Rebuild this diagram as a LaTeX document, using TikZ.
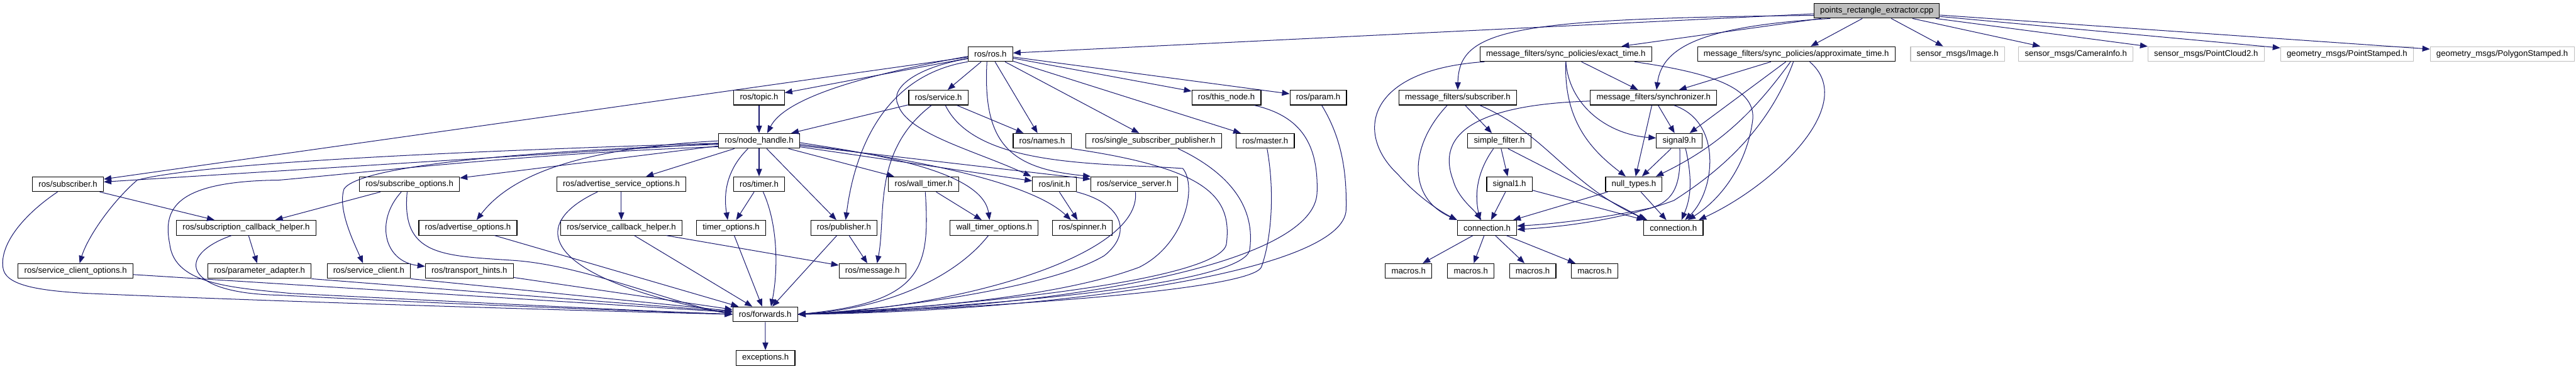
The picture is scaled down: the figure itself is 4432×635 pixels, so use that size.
\documentclass[tikz,border=0pt]{standalone}
\usepackage{fontspec}
\setsansfont{Liberation Sans}
\usetikzlibrary{arrows.meta}
\definecolor{Edge}{HTML}{191970}
\definecolor{Grey}{HTML}{BFBFBF}

\begin{document}
\begin{tikzpicture}[x=1pt,y=-1pt,font=\sffamily\fontsize{14.3}{17}\selectfont,>={Triangle[length=13pt,width=10pt]},
 box/.style={draw=black,fill=white,line width=1.2pt,inner xsep=10.5pt,inner ysep=0pt,minimum height=25.5pt},
 ext/.style={box,draw=Grey},
 rootbox/.style={box,fill=Grey},
 dep/.style={->,line width=1.1pt,draw=Edge}]
 \useasboundingbox (0,0) rectangle (4432,635);
 % row 0 and 1
 \node[rootbox] (root) at (3229,18.5) {points\_rectangle\_extractor.cpp};
 \node[box] (rosh) at (1704,93) {ros/ros.h};
 \node[box] (exact) at (2694,93) {message\_filters/sync\_policies/exact\_time.h};
 \node[box] (approx) at (3090.5,93) {message\_filters/sync\_policies/approximate\_time.h};
 \node[ext] (image) at (3368,93) {sensor\_msgs/Image.h};
 \node[ext] (caminfo) at (3571.5,93) {sensor\_msgs/CameraInfo.h};
 \node[ext] (cloud) at (3795.5,93) {sensor\_msgs/PointCloud2.h};
 \node[ext] (point) at (4038,93) {geometry\_msgs/PointStamped.h};
 \node[ext] (polygon) at (4305,93) {geometry\_msgs/PolygonStamped.h};
 % row 2
 \node[box] (topic) at (1306,168) {ros/topic.h};
 \node[box] (service) at (1614.5,168) {ros/service.h};
 \node[box] (thisnode) at (2110,168) {ros/this\_node.h};
 \node[box] (param) at (2268,168) {ros/param.h};
 \node[box] (mfsub) at (2508,168) {message\_filters/subscriber.h};
 \node[box] (sync) at (2845,168) {message\_filters/synchronizer.h};
 % row 3
 \node[box] (nh) at (1306,242.5) {ros/node\_handle.h};
 \node[box] (names) at (1793,242.5) {ros/names.h};
 \node[box] (ssp) at (1985,242.5) {ros/single\_subscriber\_publisher.h};
 \node[box] (master) at (2177,242.5) {ros/master.h};
 \node[box] (filter) at (2579.5,242.5) {simple\_filter.h};
 \node[box] (sig9) at (2889,242.5) {signal9.h};
 % row 4
 \node[box] (sub) at (117,317) {ros/subscriber.h};
 \node[box] (subopts) at (704.5,317) {ros/subscribe\_options.h};
 \node[box] (advsrv) at (1069,317) {ros/advertise\_service\_options.h};
 \node[box] (timer) at (1306,317) {ros/timer.h};
 \node[box] (walltimer) at (1589,317) {ros/wall\_timer.h};
 \node[box] (init) at (1814,317) {ros/init.h};
 \node[box] (server) at (1951.5,317) {ros/service\_server.h};
 \node[box] (sig1) at (2597,317) {signal1.h};
 \node[box] (nulltypes) at (2811,317) {null\_types.h};
 % row 5
 \node[box] (subcb) at (423.5,392) {ros/subscription\_callback\_helper.h};
 \node[box] (advopts) at (805,392) {ros/advertise\_options.h};
 \node[box] (srvcb) at (1069,392) {ros/service\_callback\_helper.h};
 \node[box] (timeropts) at (1258,392) {timer\_options.h};
 \node[box] (pub) at (1452,392) {ros/publisher.h};
 \node[box] (wallopts) at (1710.5,392) {wall\_timer\_options.h};
 \node[box] (spinner) at (1862.5,392) {ros/spinner.h};
 \node[box] (connL) at (2558.5,392) {connection.h};
 \node[box] (connR) at (2879,392) {connection.h};
 % row 6
 \node[box] (clientopts) at (130,466.5) {ros/service\_client\_options.h};
 \node[box] (adapter) at (446.5,466.5) {ros/parameter\_adapter.h};
 \node[box] (client) at (634.5,466.5) {ros/service\_client.h};
 \node[box] (hints) at (807.5,466.5) {ros/transport\_hints.h};
 \node[box] (message) at (1501,466.5) {ros/message.h};
 \foreach \i/\x in {1/2423.5,2/2530.5,3/2637,4/2743.5}
  \node[box] (macros\i) at (\x,466.5) {macros.h};
 % rows 7 and 8
 \node[box] (fwd) at (1316.5,541) {ros/forwards.h};
 \node[box] (exc) at (1317,616) {exceptions.h};

 % root
 \foreach \t in {rosh,exact,approx,image,caminfo,cloud,point,polygon}
  \draw[dep] (root) -- (\t);
 \draw[dep] ([yshift=-8pt]root.west) .. controls (2600,32) and (2510,50) .. (mfsub.north);
 \draw[dep] ([xshift=-80pt]root.south) .. controls (2930,45) and (2860,80) .. ([xshift=5pt]sync.north);

 % ros/ros.h
 \foreach \t in {service,names,ssp,master,thisnode,param,topic,sub}
  \draw[dep] (rosh) -- (\t);
 \draw[dep] ([yshift=-4pt]rosh.west) .. controls (1480,130) and (1350,170) .. ([xshift=14pt]nh.north);
 \draw[dep] ([yshift=-8pt]rosh.west) .. controls (1580,115) and (1530,150) .. (1545,180) .. controls (1560,230) and (1680,260) .. ([xshift=-40pt]init.north);
 \draw[dep] (rosh.south west) .. controls (1520,130) and (1470,260) .. ([xshift=3pt]pub.north);
 \draw[dep] ([xshift=-6pt]rosh.south) .. controls (1690,250) and (1740,290) .. (server.north west);

 % ros/service.h
 \draw[dep] (service) -- (nh);
 \draw[dep] (service) -- (names);
 \draw[dep] ([xshift=-12pt]service.south) .. controls (1500,260) and (1525,370) .. ([xshift=8pt]message.north);
 \draw[dep] ([xshift=12pt]service.south) .. controls (1680,290) and (1900,280) .. (2035,290) .. controls (2060,320) and (2040,420) .. (1960,460) .. controls (1800,520) and (1500,535) .. (fwd.east);

 % headers reaching ros/forwards.h from the right
 \draw[dep] (names.south east) .. controls (2080,290) and (2120,340) .. (2110,420) .. controls (2100,480) and (1700,525) .. (fwd.east);
 \draw[dep] ([xshift=42pt]ssp.south) .. controls (2120,300) and (2160,360) .. (2150,430) .. controls (2140,490) and (1700,528) .. (fwd.east);
 \draw[dep] ([xshift=3pt]master.south) .. controls (2195,340) and (2185,420) .. (2170,460) .. controls (2150,500) and (1700,530) .. (fwd.east);
 \draw[dep] ([xshift=48pt]thisnode.south) .. controls (2240,200) and (2268,250) .. (2266,330) .. controls (2265,460) and (1800,532) .. (fwd.east);
 \draw[dep] ([xshift=6pt]param.south) .. controls (2310,240) and (2317,300) .. (2316,360) .. controls (2315,470) and (1800,536) .. (fwd.east);

 % ros/node_handle.h
 \draw[dep] (topic) -- (nh);
 \foreach \t in {sub,subopts,advsrv,timer,pub,walltimer,init,server}
  \draw[dep] (nh) -- (\t);
 \draw[dep] ([xshift=-19pt]nh.south) .. controls (1252,290) and (1244,330) .. ([xshift=-6pt]timeropts.north);
 \draw[dep] ([yshift=-3pt]nh.east) .. controls (1480,262) and (1690,290) .. ([xshift=-8pt]wallopts.north);
 \draw[dep] ([yshift=-6pt]nh.east) .. controls (1550,270) and (1770,310) .. ([xshift=-20pt]spinner.north);
 \draw[dep] (nh.west) .. controls (1000,255) and (880,300) .. ([xshift=15pt]advopts.north);
 \draw[dep] ([yshift=-6pt]nh.west) .. controls (900,260) and (620,285) .. (592,325) .. controls (580,360) and (610,420) .. ([xshift=-10pt]client.north);
 \draw[dep] ([yshift=-4pt]nh.west) .. controls (800,260) and (350,280) .. (236,310) .. controls (190,350) and (150,410) .. ([xshift=7pt]clientopts.north);
 \draw[dep] ([yshift=-10pt]nh.west) .. controls (900,265) and (650,295) .. (480,310) .. controls (300,312) and (280,360) .. (292,420) .. controls (300,490) and (400,495) .. (500,505) .. controls (800,520) and (1100,535) .. (fwd.west);

 % left part
 \draw[dep] (sub) -- (subcb);
 \draw[dep] ([xshift=-18pt]sub.south) .. controls (40,370) and (0,420) .. (5,460) .. controls (8,490) and (60,500) .. (150,505) .. controls (500,520) and (1000,535) .. (fwd.west);
 \draw[dep] (subopts) -- (subcb);
 \draw[dep] ([xshift=-14pt]subopts.south) .. controls (645,380) and (660,450) .. ([yshift=8pt]hints.west);
 \draw[dep] ([xshift=-4pt]subopts.south) .. controls (690,440) and (760,440) .. (880,448) .. controls (1000,455) and (1150,520) .. (fwd.west);
 \draw[dep] (subcb) -- (adapter);
 \draw[dep] ([xshift=-25pt]subcb.south) .. controls (300,440) and (315,505) .. (480,508) .. controls (800,525) and (1100,535) .. (fwd.west);
 \draw[dep] (clientopts) -- (fwd);
 \draw[dep] (adapter.south east) -- (fwd);
 \draw[dep] (client.south east) -- (fwd);
 \draw[dep] (hints) -- (fwd);
 \draw[dep] (advopts) -- (fwd);
 \draw[dep] (advsrv) -- (srvcb);
 \draw[dep] ([xshift=-41pt]advsrv.south) .. controls (900,390) and (940,480) .. (fwd.west);
 \draw[dep] (srvcb) -- (fwd);
 \draw[dep] (srvcb) -- (message);
 \draw[dep] (timer) -- (timeropts);
 \draw[dep] ([xshift=7pt]timer.south) .. controls (1340,390) and (1338,470) .. ([xshift=10pt]fwd.north);
 \draw[dep] (timeropts) -- (fwd);
 \draw[dep] (pub) -- (fwd);
 \draw[dep] (pub) -- (message);
 \draw[dep] (walltimer) -- (wallopts);
 \draw[dep] ([xshift=3pt]walltimer.south) .. controls (1600,460) and (1590,520) .. (fwd.east);
 \draw[dep] ([xshift=-10pt]wallopts.south) .. controls (1650,470) and (1540,530) .. (fwd.east);
 \draw[dep] (init) -- (spinner);
 \draw[dep] (init.south east) .. controls (1930,350) and (1950,400) .. (1900,440) .. controls (1800,500) and (1500,535) .. (fwd.east);
 \draw[dep] ([xshift=2pt]server.south) .. controls (1965,440) and (1650,530) .. (fwd.east);
 \draw[dep] (fwd) -- (exc);

 % message_filters
 \draw[dep] (mfsub) -- (filter);
 \draw[dep] ([xshift=-18pt]mfsub.south) .. controls (2425,250) and (2420,340) .. (connL.north west);
 \draw[dep] ([xshift=38pt]mfsub.south) .. controls (2660,230) and (2700,320) .. ([xshift=-45pt]connR.north);
 \draw[dep] (filter) -- (sig1);
 \draw[dep] ([xshift=-10pt]filter.south) .. controls (2538,300) and (2538,340) .. ([xshift=-12pt]connL.north);
 \draw[dep] ([xshift=15pt]filter.south) .. controls (2680,300) and (2780,350) .. ([xshift=-48pt]connR.north);
 \draw[dep] (sig1) -- (connL);
 \draw[dep] (sig1) -- (connR);
 \draw[dep] (nulltypes) -- (connL);
 \draw[dep] (nulltypes) -- (connR);
 \draw[dep] (sig9) -- (nulltypes);
 \draw[dep] ([xshift=1pt]sig9.south) .. controls (2892,310) and (2885,345) .. (2840,358) .. controls (2760,375) and (2680,385) .. ([yshift=3pt]connL.east);
 \draw[dep] ([xshift=11pt]sig9.south) .. controls (2915,320) and (2905,350) .. ([xshift=14pt]connR.north);
 \draw[dep] (sync) -- (sig9);
 \draw[dep] (sync) -- (nulltypes);
 \draw[dep] ([yshift=-6pt]sync.west) .. controls (2540,180) and (2470,230) .. (2500,310) .. controls (2508,340) and (2535,360) .. ([xshift=-10pt]connL.north);
 \draw[dep] ([xshift=35pt]sync.south) .. controls (2965,210) and (2950,330) .. ([xshift=20pt]connR.north);
 \draw[dep] (exact) -- (sync);
 \draw[dep] (exact.south) .. controls (2700,185) and (2770,232) .. ([yshift=5pt]sig9.west);
 \draw[dep] (exact.south) .. controls (2690,210) and (2740,260) .. ([xshift=-14pt]nulltypes.north);
 \draw[dep] ([xshift=-140pt]exact.south) .. controls (2350,120) and (2330,230) .. (2405,300) .. controls (2440,340) and (2480,365) .. (connL.north west);
 \draw[dep] ([xshift=118pt]exact.south) .. controls (2940,125) and (3025,150) .. (3015,210) .. controls (3005,280) and (2965,340) .. ([xshift=25pt]connR.north);
 \draw[dep] (approx) -- (sync);
 \draw[dep] (approx) -- (sig9);
 \draw[dep] ([xshift=-10pt]approx.south) .. controls (3020,190) and (2960,250) .. ([xshift=38pt]nulltypes.north);
 \draw[dep] ([xshift=-5pt]approx.south) .. controls (3040,230) and (2950,300) .. (2880,345) .. controls (2800,375) and (2700,390) .. ([yshift=-3pt]connL.east);
 \draw[dep] ([xshift=23pt]approx.south) .. controls (3200,180) and (3050,320) .. ([xshift=-8pt]connR.north east);
 \foreach \i in {1,...,4}
  \draw[dep] (connL) -- (macros\i);
\end{tikzpicture}
\end{document}
